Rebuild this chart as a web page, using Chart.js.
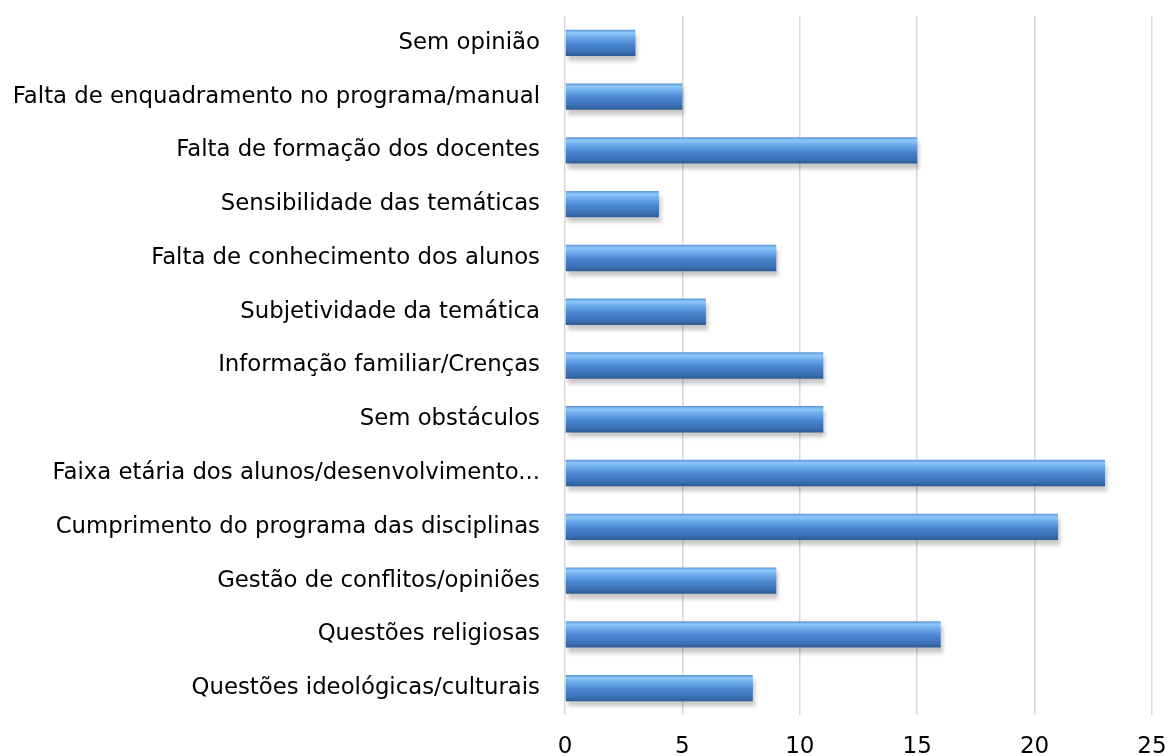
<!DOCTYPE html>
<html>
<head>
<meta charset="utf-8">
<script src="https://cdn.jsdelivr.net/npm/chart.js@4/dist/chart.umd.min.js"></script>
<style>
  html, body { margin: 0; padding: 0; background: #fff; }
  #wrap { width: 1171px; height: 756px; position: relative; }
</style>
</head>
<body>
<div id="wrap"><canvas id="obstaculosChart"></canvas></div>
<script>
// categorias (de cima para baixo)
const CATEGORIAS = [
  'Sem opinião',
  'Falta de enquadramento no programa/manual',
  'Falta de formação dos docentes',
  'Sensibilidade das temáticas',
  'Falta de conhecimento dos alunos',
  'Subjetividade da temática',
  'Informação familiar/Crenças',
  'Sem obstáculos',
  'Faixa etária dos alunos/desenvolvimento...',
  'Cumprimento do programa das disciplinas',
  'Gestão de conflitos/opiniões',
  'Questões religiosas',
  'Questões ideológicas/culturais',
];
const VALORES = [3, 5, 15, 4, 9, 6, 11, 11, 23, 21, 9, 16, 8];
const X_TICKS = [0, 5, 10, 15, 20, 25];

const FONTE = '"DejaVu Sans", Verdana, sans-serif';

// gradiente "cilíndrico" de cada barra
function barGradient(c) {
  const chart = c.chart;
  const y = chart.scales.y;
  if (!y || c.dataIndex === undefined) return '#4a86d0';
  const band = y.height / CATEGORIAS.length;
  const half = band * 0.49 / 2;
  const yc = y.getPixelForTick(c.dataIndex);
  if (!isFinite(yc) || !isFinite(half) || half <= 0) return '#4a86d0';
  const g = chart.ctx.createLinearGradient(0, yc - half, 0, yc + half);
  g.addColorStop(0.00, '#5b95d8');
  g.addColorStop(0.12, '#8ec8f6');
  g.addColorStop(0.30, '#6aa8ea');
  g.addColorStop(0.55, '#4a86d0');
  g.addColorStop(0.85, '#3a6fb2');
  g.addColorStop(1.00, '#2d5a92');
  return g;
}

// sombra suave por baixo das barras
const barShadow = {
  id: 'barShadow',
  beforeDatasetsDraw(chart) {
    const ctx = chart.ctx;
    ctx.save();
    ctx.shadowColor = 'rgba(0,0,0,.22)';
    ctx.shadowBlur = 4;
    ctx.shadowOffsetX = 2;
    ctx.shadowOffsetY = 5;
  },
  afterDatasetsDraw(chart) {
    chart.ctx.restore();
  },
};

new Chart(document.getElementById('obstaculosChart').getContext('2d'), {
  type: 'bar',
  data: {
    labels: CATEGORIAS,
    datasets: [{
      data: VALORES,
      backgroundColor: barGradient,
      borderWidth: 0,
      categoryPercentage: 1,
      barPercentage: 0.49,
    }],
  },
  options: {
    indexAxis: 'y',
    responsive: true,
    maintainAspectRatio: false,
    animation: false,
    layout: { padding: { top: 16, right: 19, bottom: 0, left: 4 } },
    plugins: {
      legend: { display: false },
      tooltip: { enabled: false },
    },
    scales: {
      x: {
        min: 0,
        max: 25,
        afterBuildTicks: ax => { ax.ticks = X_TICKS.map(v => ({ value: v })); },
        afterFit: ax => {
          ax.height = 41;
          ax.paddingLeft = 0;
          ax.paddingRight = 0;
        },
        grid: { color: '#d9d9d9', lineWidth: 1.5, drawTicks: false },
        border: { display: false },
        ticks: {
          color: '#000',
          font: { family: FONTE, size: 23 },
          padding: 18,
        },
      },
      y: {
        afterFit: ax => {
          ax.width = 561;
          ax.paddingTop = 0;
          ax.paddingBottom = 0;
        },
        grid: { display: false, drawTicks: false },
        border: { display: false },
        ticks: {
          color: '#000',
          font: { family: FONTE, size: 22.8 },
          padding: 25,
          autoSkip: false,
        },
      },
    },
  },
  plugins: [barShadow],
});
</script>
</body>
</html>
